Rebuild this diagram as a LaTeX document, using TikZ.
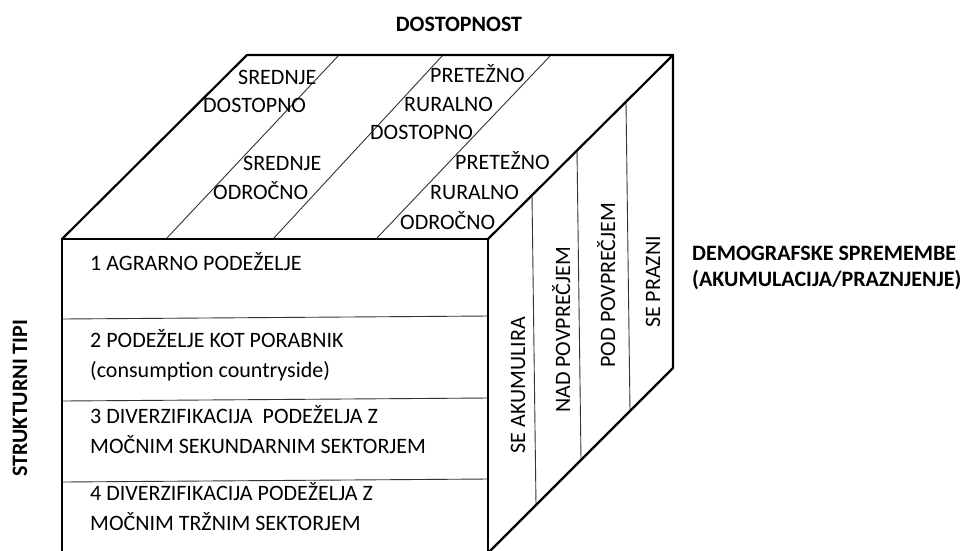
\documentclass[tikz,border=0pt]{standalone}
\usepackage{fontspec}
\setmainfont{Carlito}
\begin{document}
\begin{tikzpicture}[x=1pt,y=-1pt,
  edge/.style={line width=2.2pt, line cap=round, line join=round},
  thinline/.style={line width=0.9pt, black!80},
  lbl/.style={inner sep=0pt, font=\fontsize{22}{27}\selectfont, anchor=base west},
  blbl/.style={inner sep=0pt, font=\fontsize{22}{27}\selectfont\bfseries, anchor=base west},
  rlbl/.style={inner sep=0pt, font=\fontsize{22}{27}\selectfont, rotate=90, anchor=base}]
\path[use as bounding box, clip] (0,0) rectangle (965,550);
% cube corners
\coordinate (FTL) at (62,239);
\coordinate (FTR) at (488,239);
\coordinate (FBL) at (62,553);
\coordinate (FBR) at (488,553);
\coordinate (BTL) at (247,55);
\coordinate (BTR) at (673,55);
\coordinate (BBR) at (673,368);
% front face dividers
\draw[thinline] (62,319) -- (488,316);
\draw[thinline] (62,401) -- (488,398);
\draw[thinline] (62,482) -- (488,479);
% top face dividers
\draw[thinline] (166,239) -- (339,55);
\draw[thinline] (273,239) -- (443,55);
\draw[thinline] (376,239) -- (551,55);
% right face dividers
\draw[thinline] (532,195) -- (536,505);
\draw[thinline] (577,150) -- (581,460);
\draw[thinline] (626,102) -- (630,411);
% cube outline
\draw[edge] (FBL) -- (FTL) -- (FTR) -- (FBR);
\draw[edge] (FTL) -- (BTL) -- (BTR) -- (FTR);
\draw[edge] (BTR) -- (BBR) -- (FBR);
% titles
\node[blbl, anchor=base] (dost) at (459,31) {DOSTOPNOST};
\node[blbl] (demo1) at (692,260) {DEMOGRAFSKE SPREMEMBE};
\node[blbl] (demo2) at (692,286) {(AKUMULACIJA/PRAZNJENJE)};
\node[blbl, rotate=90, anchor=base] (struk) at (27,398) {STRUKTURNI TIPI};
% top face labels
\node[lbl] (sd1) at (238,84) {SREDNJE};
\node[lbl] (sd2) at (203,112) {DOSTOPNO};
\node[lbl] (so1) at (243,170) {SREDNJE};
\node[lbl] (so2) at (213,199) {ODROČNO};
\node[lbl] (pd1) at (430,82) {PRETEŽNO};
\node[lbl] (pd2) at (404,111) {RURALNO};
\node[lbl] (pd3) at (370,139) {DOSTOPNO};
\node[lbl] (po1) at (455,169) {PRETEŽNO};
\node[lbl] (po2) at (430,199) {RURALNO};
\node[lbl] (po3) at (400,229) {ODROČNO};
% front face labels
\node[lbl] (t1) at (90,270) {1 AGRARNO PODEŽELJE};
\node[lbl] (t2a) at (90,347) {2 PODEŽELJE KOT PORABNIK};
\node[lbl] (t2b) at (90,377) {(consumption countryside)};
\node[lbl] (t3a) at (90,423) {3 DIVERZIFIKACIJA\ \ PODEŽELJA Z};
\node[lbl] (t3b) at (90,453) {MOČNIM SEKUNDARNIM SEKTORJEM};
\node[lbl] (t4a) at (90,500) {4 DIVERZIFIKACIJA PODEŽELJA Z};
\node[lbl] (t4b) at (90,530) {MOČNIM TRŽNIM SEKTORJEM};
% right face labels
\node[rlbl] (r1) at (525,385) {SE AKUMULIRA};
\node[rlbl] (r2) at (570,330) {NAD POVPREČJEM};
\node[rlbl] (r3) at (615,285) {POD POVPREČJEM};
\node[rlbl] (r4) at (660,282) {SE PRAZNI};
\end{tikzpicture}
\end{document}
